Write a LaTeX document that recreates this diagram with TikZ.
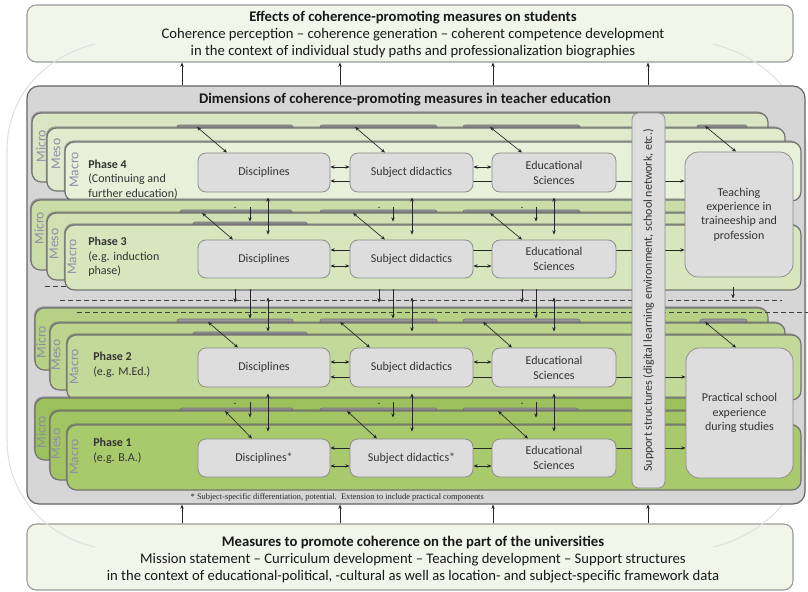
\documentclass[tikz,border=0pt]{standalone}
\usepackage{fontspec}
\setmainfont{Carlito}
\newfontfamily\fnfont{Liberation Serif}
\usetikzlibrary{arrows.meta,calc,shadows}
\pgfdeclarelayer{bgl}
\pgfdeclarelayer{lnl}
\pgfsetlayers{bgl,lnl,main}
\definecolor{boxgray}{HTML}{DDDDDD}
\definecolor{maingray}{HTML}{D6D6D6}
\definecolor{outerfill}{HTML}{F1F5EA}
\definecolor{lvlcol}{HTML}{8E8EA6}
\definecolor{pfa}{HTML}{DAE5C3}
\definecolor{pfb}{HTML}{E1EACD}
\definecolor{pfc}{HTML}{E9F0DA}
\definecolor{pta}{HTML}{CADCA8}
\definecolor{ptb}{HTML}{D1E1B3}
\definecolor{ptc}{HTML}{D8E6BE}
\definecolor{pwa}{HTML}{B6D085}
\definecolor{pwb}{HTML}{BCD48E}
\definecolor{pwc}{HTML}{C3D999}
\definecolor{poa}{HTML}{9CC05C}
\definecolor{pob}{HTML}{A2C463}
\definecolor{poc}{HTML}{A9C96D}
\newcommand\myfs[2]{\fontsize{#1}{#2}\selectfont}
\tikzset{
  gbox/.style={draw=black!45, fill=boxgray, rounded corners=6pt, line width=0.6pt,
    align=center, font=\myfs{9}{11.2}, text=black!80, inner sep=1pt},
  outerbox/.style={draw=black!40, fill=outerfill, rounded corners=7pt, line width=0.8pt},
  arcline/.style={draw=black!12, line width=0.8pt},
  tip/.tip={Stealth[length=3.2pt,width=2.6pt]},
  arr/.style={-tip, line width=0.5pt, draw=black!85},
  darr/.style={tip-tip, line width=0.5pt, draw=black!85},
  lay/.style={draw=black!55, line width=0.9pt, rounded corners=7pt,
    drop shadow={shadow xshift=-0.8pt, shadow yshift=1.2pt, opacity=0.45, fill=black!70}},
  lvl/.style={rotate=90, font=\myfs{10.2}{10}, text=lvlcol, inner sep=0pt},
  tabbar/.style={fill=black!40, draw=black!55, line width=0.4pt, rounded corners=1.5pt},
  phs/.style={anchor=west, align=left, font=\myfs{9}{10.9}, text=black!80, inner sep=0pt},
  dline/.style={dashed, dash pattern=on 3.5pt off 2.5pt, line width=0.7pt, draw=black!75}
}
\begin{document}
\begin{tikzpicture}[x=0.75pt,y=-0.75pt]
\useasboundingbox (0,0) rectangle (808,592);

% ---------- background: outer boxes, arcs, main box, layers ----------
\begin{pgfonlayer}{bgl}
\node[outerbox, minimum width=574.5pt, minimum height=42.75pt] (topb) at (410,33.5) {};
\node[outerbox, minimum width=574.5pt, minimum height=49.5pt] (botb) at (410,557) {};
\draw[arcline] (95,44) .. controls (40,58) and (7,100) .. (7,150) -- (7,440)
   .. controls (7,490) and (40,534) .. (95,547);
\draw[arcline] (713,44) .. controls (768,58) and (806,100) .. (806,150) -- (806,440)
   .. controls (806,490) and (768,534) .. (713,547);
\node[draw=black!60, fill=maingray, rounded corners=9pt, line width=0.9pt,
      minimum width=583.5pt, minimum height=313.5pt] (mainb) at (416,295) {};

% Phase 4 layers
\draw[lay, fill=pfa] (32,113) rectangle (768,182);
\foreach \a/\b in {177/293,320/437,463/580,697/747}
  \draw[tabbar] (\a,125) rectangle (\b,132);
\draw[lay, fill=pfb] (47,128) rectangle (785,191);
\draw[lay, fill=pfc] (65,142) rectangle (801,201);

% Phase 3 layers
\draw[lay, fill=pta] (31,200) rectangle (768,270);
\foreach \a/\b in {180/292,320/437,463/580}
  \draw[tabbar] (\a,210) rectangle (\b,217);
\draw[lay, fill=ptb] (47,213) rectangle (785,280);
\draw[dline] (45,286) -- (300,286);
\draw[tabbar] (193,222) rectangle (307,229);
\draw[lay, fill=ptc] (65,225) rectangle (801,290);

% Phase 2 layers
\draw[lay, fill=pwa] (35,308) rectangle (768,370);
\foreach \a/\b in {177/293,320/437,463/580,700/747}
  \draw[tabbar] (\a,319) rectangle (\b,326);
\draw[lay, fill=pwb] (50,323) rectangle (785,390);
\draw[tabbar] (193,332) rectangle (307,339);
\draw[lay, fill=pwc] (67,335) rectangle (801,400);

% Phase 1 layers
\draw[lay, fill=poa] (35,398) rectangle (768,460);
\foreach \a/\b in {180/293,320/437,463/578}
  \draw[tabbar] (\a,408) rectangle (\b,415);
\draw[lay, fill=pob] (50,411) rectangle (785,480);
\draw[lay, fill=poc] (67,425) rectangle (801,490);
\end{pgfonlayer}

% ---------- texts of outer boxes ----------
\node[align=center, font=\myfs{11}{12.9}, text=black!90] at (413,34.5)
  {\textbf{Effects of coherence-promoting measures on students}\\
   Coherence perception -- coherence generation -- coherent competence development\\
   in the context of individual study paths and professionalization biographies};
\node[align=center, font=\myfs{11}{12.9}, text=black!90] at (413,559.5)
  {\textbf{Measures to promote coherence on the part of the universities}\\
   Mission statement -- Curriculum development -- Teaching development -- Support structures\\
   in the context of educational-political, -cultural as well as location- and subject-specific framework data};
\node[font=\bfseries\myfs{11}{12}, text=black!90] (dimt) at (405,100)
  {Dimensions of coherence-promoting measures in teacher education};
\node[anchor=west, font=\fnfont\myfs{6.3}{7}, text=black!85] (fn) at (186,497)
  {* Subject-specific differentiation, potential.\ \ Extension to include practical components};

% ---------- level labels and phase texts ----------
\begin{pgfonlayer}{lnl}
\node[lvl] (mi4) at (41,146) {Micro};
\node[lvl] (me4) at (56,154) {Meso};
\node[lvl] (ma4) at (74,170) {Macro};
\node[lvl] (mi3) at (39,228) {Micro};
\node[lvl] (me3) at (54,244) {Meso};
\node[lvl] (ma3) at (72,257) {Macro};
\node[lvl] (mi2) at (41,342) {Micro};
\node[lvl] (me2) at (56,355) {Meso};
\node[lvl] (ma2) at (74,367) {Macro};
\node[lvl] (mi1) at (41,432) {Micro};
\node[lvl] (me1) at (56,444) {Meso};
\node[lvl] (ma1) at (74,457) {Macro};
\end{pgfonlayer}
\node[phs] (ph4) at (88,179.5) {\textbf{Phase 4}\\(Continuing and\\further education)};
\node[phs] (ph3) at (88,257) {\textbf{Phase 3}\\(e.g. induction\\phase)};
\node[phs] (ph2) at (93,365) {\textbf{Phase 2}\\(e.g. M.Ed.)};
\node[phs] (ph1) at (93,451) {\textbf{Phase 1}\\(e.g. B.A.)};

% ---------- boxes ----------
\node[gbox, minimum width=99pt, minimum height=29.25pt] (d4) at (264,172.5) {Disciplines};
\node[gbox, minimum width=92.25pt, minimum height=29.25pt] (s4) at (411.5,172.5) {Subject didactics};
\node[gbox, minimum width=93pt, minimum height=29.25pt] (e4) at (554,172.5) {Educational\\Sciences};
\node[gbox, minimum width=99pt, minimum height=28.5pt] (d3) at (264,259) {Disciplines};
\node[gbox, minimum width=92.25pt, minimum height=28.5pt] (s3) at (411.5,259) {Subject didactics};
\node[gbox, minimum width=93pt, minimum height=28.5pt] (e3) at (554,259) {Educational\\Sciences};
\node[gbox, minimum width=99pt, minimum height=29.25pt] (d2) at (264,367.5) {Disciplines};
\node[gbox, minimum width=92.25pt, minimum height=29.25pt] (s2) at (411.5,367.5) {Subject didactics};
\node[gbox, minimum width=93pt, minimum height=29.25pt] (e2) at (554,367.5) {Educational\\Sciences};
\node[gbox, minimum width=99pt, minimum height=28.5pt] (d1) at (264,458) {Disciplines*};
\node[gbox, minimum width=92.25pt, minimum height=28.5pt] (s1) at (411.5,458) {Subject didactics*};
\node[gbox, minimum width=93pt, minimum height=28.5pt] (e1) at (554,458) {Educational\\Sciences};
\node[gbox, rounded corners=10pt, minimum width=81pt, minimum height=93.75pt,
      font=\myfs{9}{10.8}] (te) at (739,214.5)
  {Teaching\\experience in\\traineeship and\\profession};
\node[gbox, rounded corners=10pt, minimum width=80.25pt, minimum height=97.5pt,
      font=\myfs{9}{10.8}] (pr) at (739.5,413)
  {Practical school\\experience\\during studies};
\node[gbox, rotate=90, rounded corners=5pt, minimum width=281.25pt, minimum height=24.75pt,
      font=\myfs{9}{10}] (sup) at (648.5,300.5)
  {Support structures (digital learning environment, school network, etc.)};

% ---------- connectors ----------
\begin{pgfonlayer}{lnl}
% arrows to / from outer boxes
\foreach \xx [count=\i] in {182,340,493,648} {
  \coordinate (ta\i) at (\xx,0);
  \draw[arr] (mainb.north -| ta\i) -- (topb.south -| ta\i);
  \draw[arr] (botb.north -| ta\i) -- (mainb.south -| ta\i);
}
% dashed lines
\draw[dline] (60,300) -- (782,300);
\draw[dline] (77,312) -- (808,312);

% phase 4 horizontal
\draw[darr] ($(d4.east)+(0,-5.5)$) -- ($(s4.west)+(0,-5.5)$);
\draw[darr] ($(s4.east)+(0,-5.5)$) -- ($(e4.west)+(0,-5.5)$);
\coordinate (l4) at ($(d4.east)+(0,8.5)$);
\draw[darr] (l4) -- (l4 -| te.west);
% phase 3 horizontal
\draw[darr] ($(d3.east)+(0,7)$) -- ($(s3.west)+(0,7)$);
\draw[darr] ($(s3.east)+(0,7)$) -- ($(e3.west)+(0,7)$);
\coordinate (l3) at ($(d3.east)+(0,-9)$);
\draw[darr] (l3) -- (l3 -| te.west);
% phase 2 horizontal
\draw[darr] ($(d2.east)+(0,-5.5)$) -- ($(s2.west)+(0,-5.5)$);
\draw[darr] ($(s2.east)+(0,-5.5)$) -- ($(e2.west)+(0,-5.5)$);
\coordinate (l2) at ($(d2.east)+(0,9.5)$);
\draw[darr] (l2) -- (l2 -| pr.west);
% phase 1 horizontal
\draw[darr] ($(d1.east)+(0,8)$) -- ($(s1.west)+(0,8)$);
\draw[darr] ($(s1.east)+(0,8)$) -- ($(e1.west)+(0,8)$);
\coordinate (l1) at ($(d1.east)+(0,-10)$);
\draw[darr] (l1) -- (l1 -| pr.west);

% diagonal arrows from micro/meso level
\draw[darr] (197,127) -- ($(d4.north)+(-37,0)$);
\draw[darr] (355,127) -- ($(s4.north)+(-26.5,0)$);
\draw[darr] (490,127) -- ($(e4.north)+(-32,0)$);
\draw[darr] (705,126) -- ($(te.north)+(-3,0)$);
\draw[darr] (202,213) -- ($(d3.north)+(-31,0)$);
\draw[darr] (353,213) -- ($(s3.north)+(-26.5,0)$);
\draw[darr] (490,213) -- ($(e3.north)+(-32,0)$);
\draw[darr] (208,322) -- ($(d2.north)+(-26,0)$);
\draw[darr] (340,322) -- ($(s2.north)+(-41.5,0)$);
\draw[darr] (483,322) -- ($(e2.north)+(-42,0)$);
\draw[darr] (705,322) -- ($(pr.north)+(-3.5,0)$);
\draw[darr] (225,411) -- ($(d1.north)+(-12,0)$);
\draw[darr] (347,411) -- ($(s1.north)+(-34.5,0)$);
\draw[darr] (498,411) -- ($(e1.north)+(-26,0)$);

% vertical arrows between phases
\foreach \up/\lo/\dx/\ex/\fx in {d4/d3/4/-14/-29, s4/s3/0.5/-18.5/-32.5, e4/e3/0/-18/-32} {
  \draw[darr] ($(\up.south)+(\dx,5)$) -- ($(\lo.north)+(\dx,-5)$);
  \draw[arr] ($(\up.south)+(\ex,15)$) -- ($(\lo.north)+(\ex,-18)$);
  \fill[black!80] ($(\up.south)+(\fx,15)$) circle (0.6pt);
}
\foreach \up/\lo/\dx/\ex/\fx in {d3/d2/4/-14/-29, s3/s2/0.5/-18.5/-32.5, e3/e2/0/-18/-32} {
  \draw[darr] ($(\up.south)+(\dx,19)$) -- ($(\lo.north)+(\dx,-16)$);
  \draw[arr] ($(\up.south)+(\ex,11)$) -- ($(\lo.north)+(\ex,-29)$);
  \draw[arr] ($(\up.south)+(\fx,11)$) -- ($(\lo.north)+(\fx,-45)$);
}
\foreach \up/\lo/\dx/\ex/\fx in {d2/d1/4/-14/-29, s2/s1/0.5/-18.5/-32.5, e2/e1/0/-18/-32} {
  \draw[darr] ($(\up.south)+(\dx,6)$) -- ($(\lo.north)+(\dx,-7)$);
  \draw[arr] ($(\up.south)+(\ex,15)$) -- ($(\lo.north)+(\ex,-21)$);
  \fill[black!80] ($(\up.south)+(\fx,16)$) circle (0.6pt);
}
\draw[arr] ($(te.south)+(-6,10)$) -- ($(te.south)+(-6,21)$);
\end{pgfonlayer}
\end{tikzpicture}
\end{document}
